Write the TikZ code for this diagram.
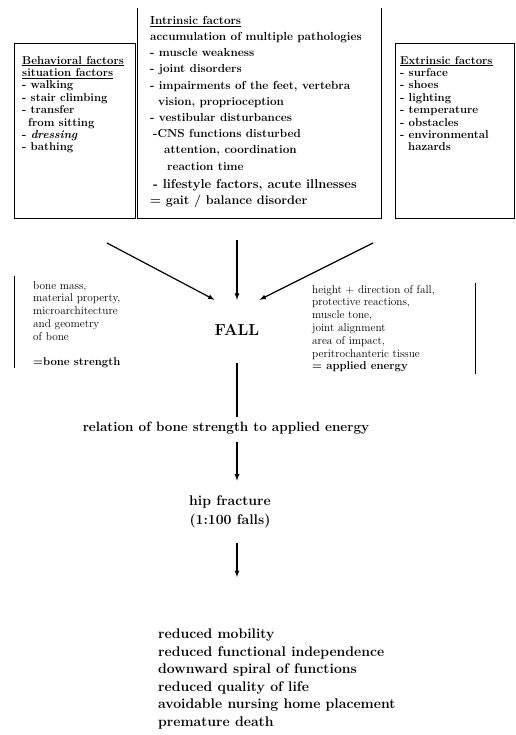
\documentclass[tikz,border=0pt]{standalone}
\begin{document}
\tikzset{
  fbox/.style={line width=0.8pt},
  arr/.style={->, line width=1.2pt},
  boxtext/.style={anchor=north west, inner sep=0pt, align=left,
    font=\fontsize{11.4}{12.4}\selectfont\bfseries},
  midtext/.style={anchor=north west, inner sep=0pt, align=left,
    font=\fontsize{11.7}{16.2}\selectfont\bfseries},
  sidetext/.style={anchor=north west, inner sep=0pt, align=left,
    font=\fontsize{11.3}{12.8}\selectfont},
  bigtext/.style={inner sep=0pt, align=center,
    font=\fontsize{13.5}{19}\selectfont\bfseries},
}
\begin{tikzpicture}[x=1pt,y=-1pt,>=latex]
\useasboundingbox (0,0) rectangle (515,735);

\draw[fbox] (14,43) rectangle (135,218);
\draw[fbox] (137,8) -- (137,218) -- (381,218) -- (381,8);
\draw[fbox] (395,43) rectangle (514,218);

\node[boxtext] (behav) at (22,56) {\underline{Behavioral factors}\\
	\underline{situation factors}\\
	- walking\\
	- stair climbing\\
	- transfer\\
	\hspace*{6pt}from sitting\\
	- \textit{dressing}\\
	- bathing};
\node[midtext] (intrin) at (150,16) {\underline{Intrinsic factors}\\
	accumulation of multiple pathologies\\
	- muscle weakness\\
	- joint disorders\\
	- impairments of the feet, vertebra\\
	\hspace*{8pt}vision, proprioception\\
	- vestibular disturbances\\
	\hspace*{3pt}-CNS functions disturbed\\
	\hspace*{14pt}attention, coordination\\
	\hspace*{17pt}reaction time\\[2pt]
	{\fontsize{12.9}{16.2}\selectfont\hspace*{3pt}- lifestyle factors, acute illnesses}\\
	{\fontsize{12.6}{16.2}\selectfont = gait / balance disorder}};
\node[boxtext] (extrin) at (400,56) {\underline{Extrinsic factors}\\
	- surface\\
	- shoes\\
	- lighting\\
	- temperature\\
	- obstacles\\
	- environmental\\
	\hspace*{8pt}hazards};

\node[font=\fontsize{16}{16}\selectfont\bfseries, inner xsep=0pt,
	minimum height=60pt] (fall) at (237,330) {FALL};

\coordinate (bstart) at (107,243);
\coordinate (istart) at (237,240);
\coordinate (estart) at (373,243);
\draw[arr] (bstart) -- (fall.north west);
\draw[arr] (istart) -- (fall.north);
\draw[arr] (estart) -- (fall.north east);

\draw[fbox] (14,276) -- (14,368);
\node[sidetext] (bone) at (33,281) {bone mass,\\
	material property,\\
	microarchitecture\\
	and geometry\\
	of bone\\[12.8pt]
	\textbf{=bone strength}};
\node[sidetext] (energy) at (312,285) {height + direction of fall,\\
	protective reactions,\\
	muscle tone,\\
	joint alignment\\
	area of impact,\\
	peritrochanteric tissue\\
	\textbf{= applied energy}};
\draw[fbox] (475,283) -- (475,374);

\node[bigtext] (relation) at (226,428) {relation of bone strength to applied energy};
\node[bigtext, font=\fontsize{14}{19}\selectfont\bfseries] (hip) at (230,512) {hip fracture\\ (1:100 falls)};
\node[anchor=north west, inner sep=0pt, align=left,
	font=\fontsize{14}{17.5}\selectfont\bfseries] (outcome) at (158,629) {reduced mobility\\
	reduced functional independence\\
	downward spiral of functions\\
	reduced quality of life\\
	avoidable nursing home placement\\
	premature death};

\draw[line width=1.2pt, shorten <=3pt, shorten >=5pt] (fall.south) -- (fall |- relation.north);
\draw[arr, shorten <=8pt, shorten >=15pt] (fall |- relation.south) -- (fall |- hip.north);
\draw[arr, shorten <=15pt, shorten >=52pt] (fall |- hip.south) -- (fall |- outcome.north);
\end{tikzpicture}
\end{document}
